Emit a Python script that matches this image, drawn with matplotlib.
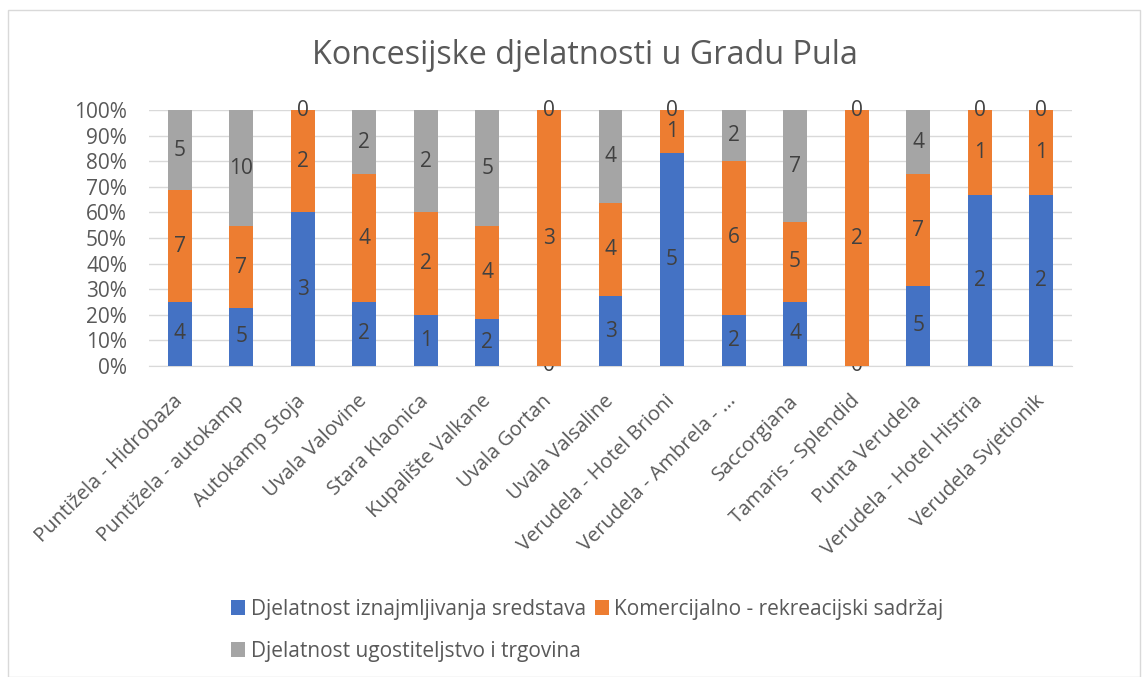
import numpy as np
import matplotlib
matplotlib.use("Agg")
import matplotlib.pyplot as plt
from matplotlib.patches import Rectangle
from matplotlib.ticker import PercentFormatter
from matplotlib.transforms import ScaledTranslation

plt.rcParams['font.family'] = ['Open Sans', 'DejaVu Sans']

categories = [
    "Puntižela - Hidrobaza", "Puntižela - autokamp", "Autokamp Stoja",
    "Uvala Valovine", "Stara Klaonica", "Kupalište Valkane", "Uvala Gortan",
    "Uvala Valsaline", "Verudela - Hotel Brioni", "Verudela - Ambrela - ...",
    "Saccorgiana", "Tamaris - Splendid", "Punta Verudela",
    "Verudela - Hotel Histria", "Verudela Svjetionik",
]
iznajmljivanje = [4, 5, 3, 2, 1, 2, 0, 3, 5, 2, 4, 0, 5, 2, 2]
komercijalno = [7, 7, 2, 4, 2, 4, 3, 4, 1, 6, 5, 2, 7, 1, 1]
ugostiteljstvo = [5, 10, 0, 2, 2, 5, 0, 4, 0, 2, 7, 0, 4, 0, 0]

series = [
    ("Djelatnost iznajmljivanja sredstava", iznajmljivanje, "#4472C4"),
    ("Komercijalno - rekreacijski sadržaj", komercijalno, "#ED7D31"),
    ("Djelatnost ugostiteljstvo i trgovina", ugostiteljstvo, "#A5A5A5"),
]

total = np.array(iznajmljivanje) + np.array(komercijalno) + np.array(ugostiteljstvo)

fig = plt.figure(figsize=(11.47, 6.77), dpi=100)
ax = fig.add_axes([149 / 1147, 1 - 366 / 677, (1072 - 149) / 1147, (366 - 110) / 677])

x = np.arange(len(categories))
bottom = np.zeros(len(categories))
handles = []
for name, vals, col in series:
    vals = np.array(vals)
    pct = vals / total
    bars = ax.bar(x, pct, 0.39, bottom=bottom, color=col, label=name, zorder=3)
    ax.bar_label(bars, labels=[str(v) for v in vals], label_type='center',
                 fontsize=15, color="#404040")
    handles.append(bars)
    bottom += pct

ax.set_xlim(-0.5, len(categories) - 0.5)
ax.set_ylim(0, 1)
ax.set_yticks(np.arange(0, 1.01, 0.1))
ax.yaxis.set_major_formatter(PercentFormatter(1.0, decimals=0))
ax.grid(axis='y', color="#D9D9D9", linewidth=1, zorder=0)
for s in ax.spines.values():
    s.set_visible(False)
ax.spines['bottom'].set_visible(True)
ax.spines['bottom'].set_color("#D9D9D9")
ax.tick_params(axis='y', length=0, labelsize=15, colors="#595959", pad=15.8)
ax.tick_params(axis='x', length=0, labelsize=14.5, colors="#595959", pad=8)
ax.set_xticks(x)
ax.set_xticklabels(categories, rotation=45, ha='right', rotation_mode='anchor')
shift = ScaledTranslation(-7 / 100, -14 / 100, fig.dpi_scale_trans)
for lbl in ax.get_xticklabels():
    lbl.set_transform(lbl.get_transform() + shift)

fig.text(585 / 1147, 1 - 55 / 677, "Koncesijske djelatnosti u Gradu Pula",
         ha='center', va='center', fontsize=23.3, color="#595959")

# order so that row 1 holds series 1 and 2, row 2 holds series 3
order = [0, 2, 1]
fig.legend([handles[i] for i in order], [series[i][0] for i in order],
           loc='upper left', bbox_to_anchor=(212 / 1147, 1 - 580 / 677), ncol=2,
           frameon=False, fontsize=15, labelcolor="#595959", handlelength=0.7,
           handleheight=0.7, handletextpad=0.25, columnspacing=0.43, labelspacing=1.0)

fig.patches.append(Rectangle((8 / 1147, 0), 1132 / 1147, 1 - 10 / 677,
                             transform=fig.transFigure, fill=False,
                             edgecolor="#D9D9D9", linewidth=1))

fig.savefig("out.png", dpi=100)
